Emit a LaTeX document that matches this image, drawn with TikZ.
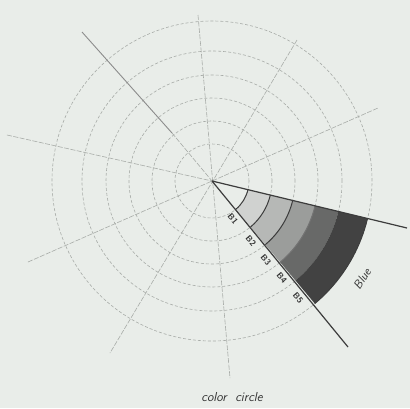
\documentclass[tikz,border=0pt]{standalone}
\definecolor{bg}{RGB}{233,237,233}
\definecolor{guidec}{RGB}{168,172,168}
\definecolor{edgec}{RGB}{60,60,60}
\definecolor{bandA}{RGB}{208,210,208}
\definecolor{bandB}{RGB}{182,184,182}
\definecolor{bandC}{RGB}{155,157,155}
\definecolor{bandD}{RGB}{104,105,104}
\definecolor{bandE}{RGB}{66,66,66}
\begin{document}
\begin{tikzpicture}[x=1pt,y=1pt,
  ring/.style={draw=guidec,line width=0.6pt,dash pattern=on 3pt off 2pt},
  guide/.style={draw=guidec,line width=0.6pt,dash pattern=on 5pt off 1.5pt},
  markline/.style={draw=black!45,line width=0.9pt},
  edgeline/.style={draw=edgec,line width=1.2pt},
  bandarc/.style={draw=edgec,line width=1pt},
  lab/.style={font=\sffamily\bfseries\fontsize{8.5}{10}\selectfont,text=black!80,inner sep=0pt},
  hand/.style={font=\sffamily\itshape\fontsize{12}{14}\selectfont,text=black!80,inner sep=0pt}]
\fill[bg] (-212,-227) rectangle (198,181);
\useasboundingbox (-212,-227) rectangle (198,181);
\coordinate (c) at (0,0);
% rings
\foreach \r in {37,60,83,106,130,160}
  \draw[ring] (c) circle[radius=\r pt];
% guide lines
\coordinate (v1) at (-14,166);   \coordinate (v2) at (18,-197);
\coordinate (d1) at (85,141);    \coordinate (d2) at (-102,-172);
\coordinate (h1) at (-205,46);   \coordinate (h2) at (195,-47);
\coordinate (e1) at (-184,-81);  \coordinate (e2) at (166,73);
\coordinate (m1) at (-130,149);  \coordinate (m2) at (-40,48);
\coordinate (s2) at (136,-166);
\draw[guide] (v1) -- (v2);
\draw[guide] (d1) -- (d2);
\draw[guide] (h1) -- (c);
\draw[guide] (e1) -- (e2);
\draw[guide] (m2) -- (c);
\draw[markline] (m1) -- (m2);
% shaded sector bands
\def\aA{-50}\def\aB{-13.5}
\fill[bandA] (\aA:37pt) arc[start angle=\aA,end angle=\aB,radius=37pt] -- (\aB:60pt) arc[start angle=\aB,end angle=\aA,radius=60pt] -- cycle;
\fill[bandB] (\aA:60pt) arc[start angle=\aA,end angle=\aB,radius=60pt] -- (\aB:83pt) arc[start angle=\aB,end angle=\aA,radius=83pt] -- cycle;
\fill[bandC] (\aA:83pt) arc[start angle=\aA,end angle=\aB,radius=83pt] -- (\aB:106pt) arc[start angle=\aB,end angle=\aA,radius=106pt] -- cycle;
\fill[bandD] (\aA:106pt) arc[start angle=\aA,end angle=\aB,radius=106pt] -- (\aB:130pt) arc[start angle=\aB,end angle=\aA,radius=130pt] -- cycle;
\fill[bandE] (\aA:130pt) arc[start angle=\aA,end angle=\aB,radius=130pt] -- (\aB:160pt) arc[start angle=\aB,end angle=\aA,radius=160pt] -- cycle;
\foreach \r in {37,60,83}
  \draw[bandarc] (\aA:\r pt) arc[start angle=\aA,end angle=\aB,radius=\r pt];
\draw[bandarc,draw=black!55] (\aA:106pt) arc[start angle=\aA,end angle=\aB,radius=106pt];
\draw[edgeline,line width=0.9pt] (\aA:160pt) arc[start angle=\aA,end angle=\aB,radius=160pt];
% sector edges
\draw[edgeline] (c) -- (h2);
\draw[edgeline] (c) -- (s2);
% labels
\node[lab,rotate=-50] (b1) at (21,-38) {B1};
\node[lab,rotate=-50] (b2) at (39,-60) {B2};
\node[lab,rotate=-50] (b3) at (54,-79) {B3};
\node[lab,rotate=-50] (b4) at (70,-97) {B4};
\node[lab,rotate=-50] (b5) at (86,-117) {B5};
\node[hand,rotate=57] (blue) at (150,-98) {Blue};
\node[hand,font=\sffamily\itshape\fontsize{13}{15}\selectfont] (cap) at (20,-216) {color\ \ circle};
\end{tikzpicture}
\end{document}
